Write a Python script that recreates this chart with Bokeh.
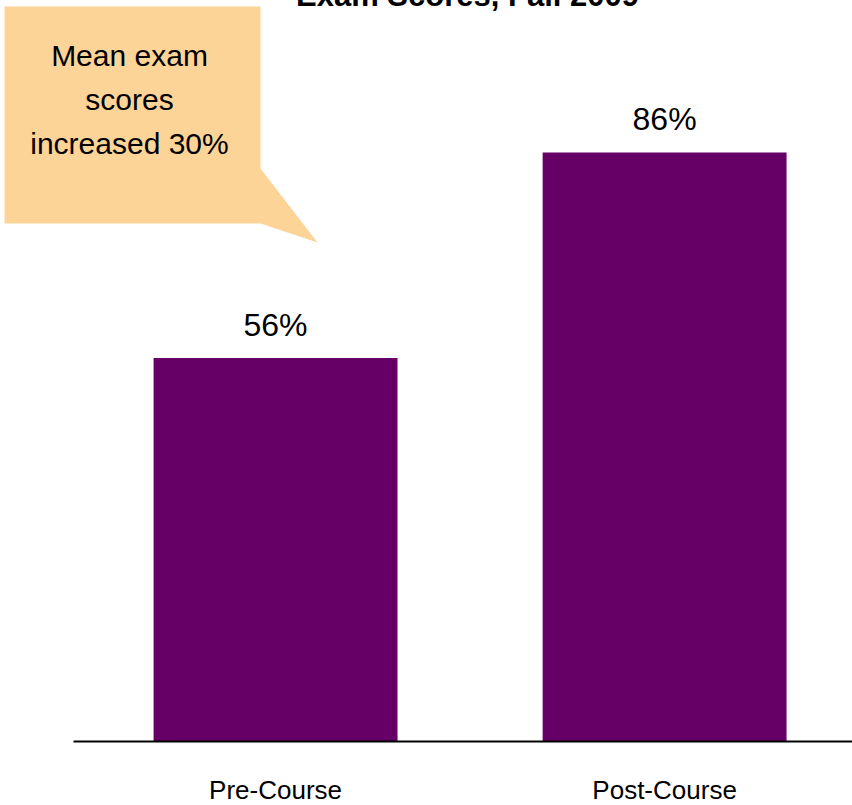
from bokeh.plotting import figure
from bokeh.models import Range1d, FixedTicker, Label, PolyAnnotation, ColumnDataSource
from bokeh.embed import file_html
from bokeh.resources import INLINE

# ---- data ----
categories = ["Pre-Course", "Post-Course"]
scores = [56, 86]
score_labels = ["56%", "86%"]
title_text = "Exam Scores, Fall 2009"
callout_lines = ["Mean exam", "scores", "increased 30%"]

BAR = "#660066"
PEACH = "#FDD498"
FONT = "Liberation Sans"
TXT_SHIFT = 12  # compensation for text baseline placement

positions = list(range(len(categories)))
src = ColumnDataSource(dict(x=positions, top=scores, lab=score_labels))

p = figure(width=852, height=833, output_backend="svg", toolbar_location=None,
           x_range=Range1d(-0.707, 1.483), y_range=Range1d(0, 111.4),
           min_border_left=0, min_border_right=0, min_border_top=0,
           min_border_bottom=70,
           styles={"transform": "translate(0px, -22px)", "margin-bottom": "-50px"})
p.outline_line_color = None
p.background_fill_color = "white"
p.border_fill_color = "white"
p.xgrid.visible = False
p.ygrid.visible = False
p.yaxis.visible = False

p.vbar(x="x", top="top", width=0.627, bottom=0, source=src,
       fill_color=BAR, line_color=None)
p.text(x="x", y="top", text="lab", source=src, y_offset=-21 - TXT_SHIFT,
       text_align="center", text_baseline="alphabetic",
       text_font={"value": FONT}, text_font_size="32px", text_color="black")

ax = p.xaxis[0]
ax.ticker = FixedTicker(ticks=positions)
ax.major_label_overrides = {i: c for i, c in zip(positions, categories)}
ax.bounds = (-0.519, 1.483)
ax.major_tick_line_color = None
ax.minor_tick_line_color = None
ax.major_tick_out = 0
ax.major_tick_in = 0
ax.axis_line_color = "black"
ax.axis_line_width = 2
ax.major_label_text_font = FONT
ax.major_label_text_font_size = "26px"
ax.major_label_text_color = "black"
ax.major_label_standoff = 33

# callout bubble (canvas pixel units)
p.add_layout(PolyAnnotation(xs=[4, 260, 260, 317, 260, 4],
                            ys=[28, 28, 190, 264, 245, 245],
                            xs_units="canvas", ys_units="canvas",
                            fill_color=PEACH, fill_alpha=1.0, line_color=None))
for i, line in enumerate(callout_lines):
    p.add_layout(Label(x=129, y=89 + 44 * i - TXT_SHIFT, x_units="canvas", y_units="canvas",
                       text=line, text_align="center", text_baseline="alphabetic",
                       text_font=FONT, text_font_size="30px", text_color="black"))

p.add_layout(Label(x=467, y=29 - TXT_SHIFT, x_units="canvas", y_units="canvas",
                   text=title_text, text_align="center", text_baseline="alphabetic",
                   text_font=FONT, text_font_style="bold",
                   text_font_size="31px", text_color="black"))

open("out.html", "w").write(file_html(p, INLINE))
